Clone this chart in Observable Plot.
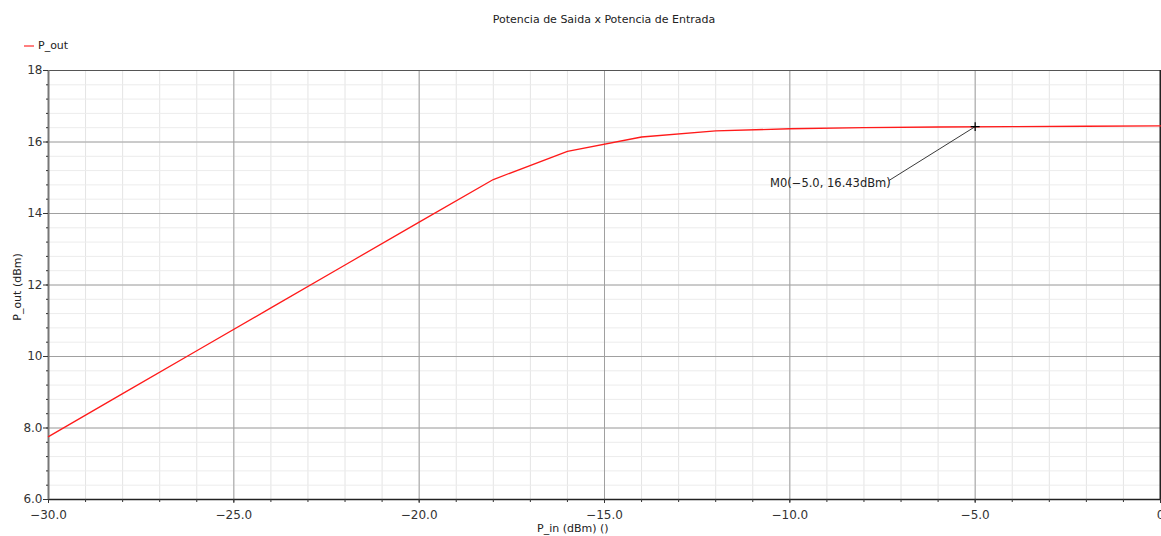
<!DOCTYPE html>
<html>
<head>
<meta charset="utf-8">
<script src="https://cdn.jsdelivr.net/npm/d3@7"></script>
<script src="https://cdn.jsdelivr.net/npm/@observablehq/plot@0.6"></script>
<style>
  html, body { margin: 0; padding: 0; background: white; }
  #wrap { position: relative; width: 1161px; height: 536px; overflow: hidden; font-family: "DejaVu Sans", sans-serif; }
  .lbl { position: absolute; font-size: 11px; color: #222; white-space: nowrap; }
  #title { top: 13px; left: 0; width: 1208px; text-align: center; }
  #legend { top: 39px; left: 24px; }
  #legend span.sw { display: inline-block; width: 10px; height: 0; border-top: 2px solid #ff7f7f; vertical-align: middle; margin-right: 4px; }
  #xlabel { top: 522px; left: 537px; }
  #ylabel { left: 17px; top: 287px; transform: translate(-50%, -50%) rotate(-90deg); }
  #chart { position: absolute; left: 0; top: 0; }
</style>
</head>
<body>
<div id="wrap">
  <div id="chart"></div>
  <div id="title" class="lbl">Potencia de Saida x Potencia de Entrada</div>
  <div id="legend" class="lbl"><span class="sw"></span>P_out</div>
  <div id="xlabel" class="lbl">P_in (dBm) ()</div>
  <div id="ylabel" class="lbl">P_out (dBm)</div>
</div>
<script>
// Data
const pIn  = [-30, -28, -26, -24, -22, -20, -18, -16, -14, -12, -10, -8, -6, -4, -2, 0];
const pOut = [7.76, 8.96, 10.16, 11.36, 12.56, 13.76, 14.95, 15.74, 16.14, 16.31, 16.37, 16.40, 16.42, 16.43, 16.44, 16.45];

// Axis ticks
const xMajor = [-30, -25, -20, -15, -10, -5, 0];
const xMajorLabels = ["−30.0", "−25.0", "−20.0", "−15.0", "−10.0", "−5.0", "0"];
const xMinor = d3.range(-30, 0.5, 1);
const yMajor = [6, 8, 10, 12, 14, 16, 18];
const yMajorLabels = ["6.0", "8.0", "10", "12", "14", "16", "18"];
const yMinor = d3.range(0, 31).map(i => 6 + i * 0.4);

// Marker annotation
const markerX = [-5];
const markerY = [16.43];
const markerLabel = ["M0(−5.0, 16.43dBm)"];
const markerLabelX = [-7.33];
const markerLabelY = [14.92];

const data = pIn.map((x, i) => ({x, y: pOut[i]}));
const marker = markerX.map((x, i) => ({x, y: markerY[i], lx: markerLabelX[i], ly: markerLabelY[i], label: markerLabel[i]}));
const xFmt = new Map(xMajor.map((v, i) => [v, xMajorLabels[i]]));
const yFmt = new Map(yMajor.map((v, i) => [v, yMajorLabels[i]]));
const blank = () => "";

const chart = Plot.plot({
  width: 1161,
  height: 536,
  marginLeft: 48,
  marginRight: 1,
  marginTop: 70,
  marginBottom: 37,
  style: {fontFamily: "DejaVu Sans, sans-serif", fontSize: "12px", background: "white", color: "#333"},
  x: {domain: [-30, 0]},
  y: {domain: [6, 18]},
  marks: [
    // minor grid
    Plot.ruleX(xMinor, {stroke: "#e4e4e4", strokeWidth: 1}),
    Plot.ruleY(yMinor, {stroke: "#ececec", strokeWidth: 1}),
    // major grid
    Plot.ruleX(xMajor, {stroke: "#a0a0a0", strokeWidth: 1}),
    Plot.ruleY(yMajor, {stroke: "#a0a0a0", strokeWidth: 1}),
    // frame
    Plot.ruleY([18], {stroke: "#555", strokeWidth: 1.2}),
    Plot.ruleY([6], {stroke: "#222", strokeWidth: 1.5}),
    Plot.ruleX([-30], {stroke: "#777", strokeWidth: 2}),
    Plot.ruleX([0], {stroke: "#222", strokeWidth: 2}),
    // axes
    Plot.axisX({ticks: xMinor, tickSize: 3, tickFormat: blank, stroke: "#333", label: null}),
    Plot.axisX({ticks: xMajor, tickSize: 4, tickPadding: 7, tickFormat: d => xFmt.get(d), stroke: "#333", fill: "#333", label: null}),
    Plot.axisY({ticks: yMinor, tickSize: 2, tickFormat: blank, stroke: "#333", label: null}),
    Plot.axisY({ticks: yMajor, tickSize: 5, tickPadding: 1, tickFormat: d => yFmt.get(d), stroke: "#333", fill: "#333", label: null}),
    // data line
    Plot.line(data, {x: "x", y: "y", stroke: "#ff1a1a", strokeWidth: 1.3}),
    // marker annotation
    Plot.link(marker, {x1: "x", y1: "y", x2: "lx", y2: "ly", stroke: "#222", strokeWidth: 0.9}),
    Plot.dot(marker, {x: "x", y: "y", symbol: "plus", r: 3, stroke: "#000", strokeWidth: 1.2}),
    Plot.text(marker, {x: "lx", y: "ly", text: "label", textAnchor: "end", dx: 2, dy: 3, fontSize: 11.5, fill: "#222"})
  ]
});
document.getElementById("chart").appendChild(chart);
</script>
</body>
</html>
